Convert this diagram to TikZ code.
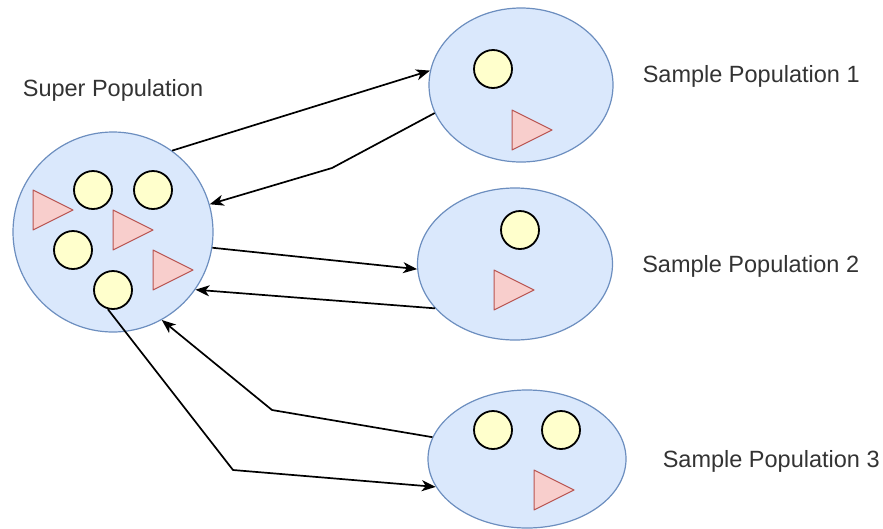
\documentclass[tikz,border=0pt]{standalone}
\usepackage{fontspec}
\setmainfont{Liberation Sans}
\usepackage{tikz}
\usetikzlibrary{shapes.geometric, positioning, arrows.meta}
\definecolor{popfill}{HTML}{DAE8FC}
\definecolor{popdraw}{HTML}{6C8EBF}
\definecolor{ballfill}{HTML}{FFFFCC}
\definecolor{trifill}{HTML}{F8CECC}
\definecolor{tridraw}{HTML}{B85450}
\definecolor{labelgray}{HTML}{333333}
\newcommand{\tri}[2]{\draw[tri] (#1,#2) -- ++(40,20) -- ++(-40,20) -- cycle;}

\begin{document}
\begin{tikzpicture}[x=1pt,y=-1pt,
    pop/.style={ellipse,draw=popdraw,fill=popfill,line width=1.2pt,inner sep=0pt},
    ball/.style={circle,draw=black,fill=ballfill,line width=1.8pt,minimum size=38pt,inner sep=0pt},
    tri/.style={draw=tridraw,fill=trifill,line width=1pt,line join=round},
    lbl/.style={font=\fontsize{23.5}{28}\selectfont,text=labelgray,inner sep=0pt},
    link/.style={draw=black,line width=1.7pt,-{Stealth[length=14pt,width=11pt,inset=4pt]}}]
    \useasboundingbox (0,0) rectangle (883,528);

    % Add the populations
        \node[pop,minimum width=200pt,minimum height=200pt] (super) at (113,232) {};
        \node[pop,minimum width=184pt,minimum height=154pt] (s1) at (521,85) {};
        \node[pop,minimum width=195pt,minimum height=152pt] (s2) at (515,264) {};
        \node[pop,minimum width=198pt,minimum height=138pt] (s3) at (527,459) {};

        % Labels
        \node[lbl,above=30pt of super] (lsuper) {Super Population};
        \node[lbl,right=29pt of s1,yshift=9pt] (ls1) {Sample Population 1};
        \node[lbl,right=29pt of s2,yshift=-2pt] (ls2) {Sample Population 2};
        \node[lbl,right=36pt of s3,yshift=-2pt] (ls3) {Sample Population 3};

        % Members: balls and triangles
        \node[ball] (m1) at (93,190) {};
        \node[ball] (m2) at (153,190) {};
        \node[ball] (m3) at (73,250) {};
        \node[ball] (m4) at (113,290) {};
        \tri{33}{190} \tri{113}{210} \tri{153}{250}

        \node[ball] (m5) at (493,69) {};
        \tri{512}{110}

        \node[ball] (m6) at (520,230) {};
        \tri{494}{270}

        \node[ball] (m7) at (493,430) {};
        \node[ball] (m8) at (561,430) {};
        \tri{534}{470}

        % Bend points
        \coordinate (b1) at (332,168);
        \coordinate (b2) at (272,410);
        \coordinate (b3) at (233,470);

        % Connect the populations with arrows
        \draw[link] (super.54) -- (s1.171);
        \draw[link] (s1.198) -- (b1) -- (super.16);
        \draw[link] (super.-9) -- (s2.183);
        \draw[link] (s2.209) -- (super.-35);
        \draw[link] (s3.167) -- (b2) -- (super.-61);
        \draw[link] (m4.-105) -- (b3) -- (s3.197);
    \end{tikzpicture}
\end{document}
